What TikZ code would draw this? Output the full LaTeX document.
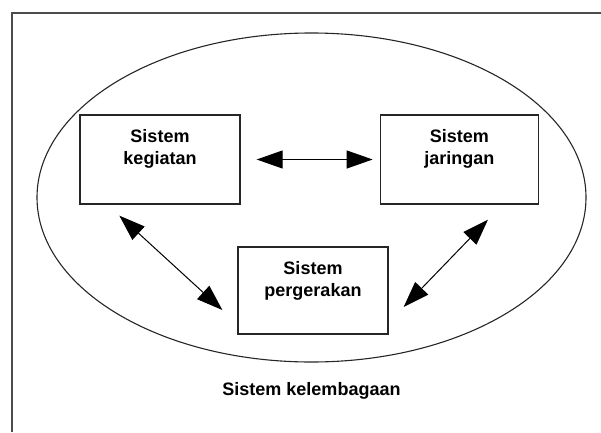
\documentclass[tikz,border=0pt]{standalone}
\usepackage{fontspec}
\setmainfont{Liberation Sans}
\usetikzlibrary{shapes.geometric, arrows.meta, positioning, calc}

\begin{document}
\begin{tikzpicture}[x=1pt, y=1pt,
	sysbox/.style={rectangle, draw=black!85, line width=1.3pt, minimum width=160pt, minimum height=89pt, inner sep=0pt},
	boxtext/.style={align=center, inner sep=0pt, font=\fontsize{18}{22}\selectfont\bfseries},
	arrow/.style={{Triangle[length=26pt, width=18pt]}-{Triangle[length=26pt, width=18pt]}, line width=1pt}
]
\useasboundingbox (0,0) rectangle (601,432);

% Outer frame, only top and left edges show
\draw[black!70, line width=1.5pt] (12,0) |- (601,419);

% Institutional system
\node[ellipse, draw=black!85, line width=1.1pt, minimum width=549pt, minimum height=329pt, inner sep=0pt] (lem) at (311.5,234.5) {};
\node[boxtext, below=20pt of lem.south] (lab) {Sistem kelembagaan};

% The three subsystems
\node[sysbox] (keg) at (160,272.5) {};
\node[boxtext, below=15pt of keg.north] (kegtxt) {Sistem\\kegiatan};

\node[sysbox, minimum width=158pt, right=139pt of keg] (jar) {};
\node[boxtext, below=15pt of jar.north] (jartxt) {Sistem\\jaringan};

\node[sysbox, minimum width=150pt, minimum height=87pt] (per) at (313,141.5) {};
\node[boxtext, below=15pt of per.north] (pertxt) {Sistem\\pergerakan};

% Interactions
\draw[arrow] ([xshift=16pt]keg.east) -- ([xshift=-7pt]jar.west);
\draw[arrow] ($(keg.south west)+(40,-11)$) -- ($(per.west)+(-15,-19.5)$);
\draw[arrow] ($(jar.south east)+(-51,-15)$) -- ($(per.east)+(15,-16.5)$);
\end{tikzpicture}
\end{document}
